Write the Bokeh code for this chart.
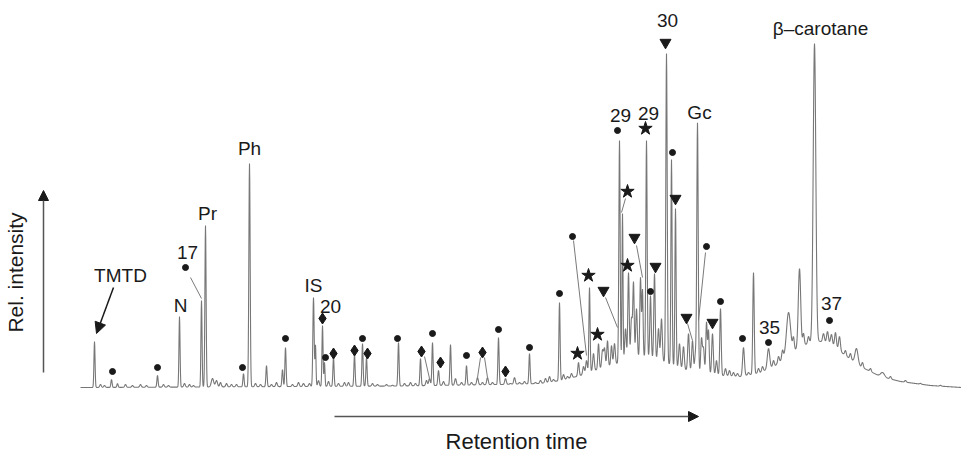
import numpy as np
from bokeh.plotting import figure
from bokeh.models import Range1d, Arrow, NormalHead
from bokeh.core.properties import value
from bokeh.embed import file_html
from bokeh.resources import INLINE

# ---------------- data (retention time in arbitrary units, relative intensity) ----------------
baseline_rt = [80, 200, 300, 400, 500, 540, 560, 580, 600, 620, 645, 660, 680, 700, 720, 740,
               760, 775, 790, 805, 815, 830, 845, 860, 880, 900, 930, 961]
baseline_level = [1, 1.5, 2, 2.5, 4, 5, 8, 13, 20, 26, 32, 28, 20, 15, 13, 12,
                  16, 23, 36, 44, 48, 45, 33, 22, 12, 7, 3, 1]

# major peaks: retention, apex intensity, width
peak_rt = [94, 111, 117, 157, 179, 201, 205, 212, 216, 243, 249, 266, 282, 285, 313, 315,
           322, 324, 333, 344, 354, 362, 366, 398, 420, 429, 432, 438, 450, 455, 466, 477,
           487, 498, 505, 514, 529, 559, 578, 589, 598, 607, 611, 619, 622, 628, 633, 640,
           642, 646, 650, 654, 666, 671, 675, 688, 692, 697, 701, 706, 708, 712, 720, 743,
           753, 768, 788, 799, 814, 823, 827, 831, 835, 839, 856, 882]
peak_apex = [47, 9, 5, 13, 72, 88, 163, 10, 8, 15, 225, 23, 19, 41, 91, 43,
             63, 26, 31, 6, 34, 45, 31, 46, 30, 10, 46, 18, 44, 10, 23, 11,
             11, 51, 10, 11, 35, 86, 26, 101, 45, 48, 43, 248, 175, 116, 105, 111,
             98, 248, 93, 115, 335, 229, 180, 55, 48, 265, 50, 66, 58, 55, 80, 41,
             116, 40, 76, 120, 345, 55, 57, 54, 56, 52, 40, 16]
peak_width = [0.55, 0.6, 0.6, 0.6, 0.55, 0.55, 0.6, 1.2, 1.0, 0.6, 0.65, 0.6, 0.6, 0.6, 0.65, 0.5,
              0.55, 0.5, 0.6, 0.8, 0.6, 0.6, 0.6, 0.6, 0.6, 0.8, 0.6, 0.7, 0.6, 0.8, 0.6, 0.8,
              0.8, 0.6, 0.8, 0.8, 0.6, 0.6, 0.7, 0.6, 0.7, 0.7, 0.7, 0.65, 0.5, 0.7, 0.7, 0.7,
              0.6, 0.65, 0.7, 0.7, 0.7, 0.6, 0.6, 0.8, 0.8, 0.7, 0.8, 0.7, 0.7, 0.8, 0.7, 0.9,
              0.7, 1.2, 2.0, 1.2, 1.3, 0.9, 0.9, 0.9, 0.9, 0.9, 1.5, 2.0]

# minor peaks (noise-level signals)
minor_rt = [100, 104, 125, 132, 140, 146, 163, 168, 184, 189, 193, 220, 226, 231, 236, 255,
            260, 271, 276, 292, 298, 303, 309, 318, 328, 338, 348, 372, 377, 386, 392, 404,
            410, 415, 426, 443, 461, 471, 482, 492, 510, 519, 524, 535, 540, 545, 549, 553,
            563, 567, 571, 583, 586, 593, 602, 604, 614, 625, 631, 636, 658, 661, 679, 683,
            695, 703, 716, 725, 729, 733, 737, 748, 758, 762, 773, 778, 782, 793, 803, 808,
            845, 850, 862, 870, 890, 905, 920, 940]
minor_apex = [4, 3, 4, 3, 4, 3, 4, 3, 5, 4, 3, 6, 5, 4, 4, 5,
              4, 4, 6, 4, 6, 5, 5, 8, 7, 5, 6, 5, 4, 4, 3, 5,
              6, 5, 8, 7, 6, 6, 6, 6, 5, 6, 7, 6, 8, 10, 12, 9,
              14, 12, 15, 22, 28, 35, 38, 40, 45, 60, 70, 80, 60, 70, 45, 42,
              35, 40, 28, 20, 18, 16, 15, 16, 20, 22, 28, 32, 38, 50, 55, 52,
              38, 35, 26, 20, 12, 8, 5, 3]

# compound markers (position of each symbol)
dot_x = [112, 157, 185, 242, 285, 325, 362, 397, 432, 466, 498, 529, 559, 572, 617, 650, 672, 706, 720, 742, 768, 829]
dot_y = [17, 21, 121, 21, 50, 31, 50, 50, 55, 33, 59, 41, 95, 152, 258, 97, 236, 142, 87, 50, 46, 68]
diamond_x = [322, 333, 354, 367, 421, 440, 482, 505]
diamond_y = [70, 35, 38, 35, 37, 26, 36, 17]
star_x = [577, 588, 597, 627, 627, 645]
star_y = [35, 113, 54, 197, 123, 260]
tri_x = [603, 634, 655, 665, 675, 686, 712]
tri_y = [98, 151, 122, 346, 190, 71, 66]

# leader lines from symbols to peaks
lead_x0 = [190, 573, 605, 625, 636, 705, 687, 424, 480, 484]
lead_y0 = [111, 148, 91, 190, 143, 136, 65, 32, 31, 31]
lead_x1 = [201, 586, 617, 621, 642, 698, 692, 429, 477, 487]
lead_y1 = [90, 33, 61, 176, 111, 68, 48, 10, 11, 11]

# peak labels
label_text = ["TMTD", "N", "17", "Pr", "Ph", "IS", "20", "29", "29", "30", "Gc", "β–carotane", "35", "37"]
label_x = [120, 180, 187, 207, 249, 313, 330, 620, 648, 667, 699, 820, 769, 831]
label_y = [113, 83, 136, 175, 240, 103, 82, 273, 275, 368, 276, 360, 61, 85]

# ---------------- build trace ----------------
t = np.arange(80, 961, 0.25)
base = np.interp(t, baseline_rt, baseline_level)
sig = base.copy()
for rt, ap, w in zip(peak_rt, peak_apex, peak_width):
    h = max(ap - np.interp(rt, baseline_rt, baseline_level), 0)
    sig += h * np.exp(-0.5 * ((t - rt) / w) ** 2)
for rt, ap in zip(minor_rt, minor_apex):
    h = max(ap - np.interp(rt, baseline_rt, baseline_level), 0.8)
    sig += h * np.exp(-0.5 * ((t - rt) / 0.8) ** 2)

# ---------------- figure ----------------
p = figure(width=961, height=454, x_range=Range1d(0, 961), y_range=Range1d(-66, 388),
           x_axis_type=None, y_axis_type=None, toolbar_location=None,
           output_backend="svg", min_border=0)
p.grid.visible = False
p.outline_line_color = None
p.background_fill_color = "white"
p.border_fill_color = "white"

FONT = value("Liberation Sans")
INK = "#1a1a1a"

p.segment(lead_x0, lead_y0, lead_x1, lead_y1, line_color="#7a7a7a", line_width=1)
p.line(t, sig, line_color="#777777", line_width=1.1)

p.scatter(dot_x, dot_y, marker="circle", size=6, color=INK)
p.scatter(diamond_x, diamond_y, marker="diamond", size=11, color=INK)
p.scatter(star_x, star_y, marker="star", size=14, color=INK)
p.scatter(tri_x, tri_y, marker="inverted_triangle", size=11, color=INK)

p.text(label_x, label_y, text=label_text, text_font=FONT, text_font_size="19px",
       text_align="center", text_baseline="middle", text_color=INK)

# TMTD arrow
p.add_layout(Arrow(x_start=113, y_start=101, x_end=96, y_end=55, line_color=INK, line_width=1.5,
                   end=NormalHead(size=11, fill_color=INK, line_color=INK)))
# axis arrows
p.add_layout(Arrow(x_start=43, y_start=16, x_end=43, y_end=198, line_color="#555555", line_width=1.5,
                   end=NormalHead(size=10, fill_color=INK, line_color=INK)))
p.add_layout(Arrow(x_start=334, y_start=-28, x_end=698, y_end=-28, line_color="#555555", line_width=1.5,
                   end=NormalHead(size=10, fill_color=INK, line_color=INK)))

p.text([15], [116], text=["Rel. intensity"], angle=np.pi / 2, text_font=FONT, text_font_size="21px",
       text_align="center", text_baseline="middle", text_color=INK)
p.text([516], [-53], text=["Retention time"], text_font=FONT, text_font_size="22px",
       text_align="center", text_baseline="middle", text_color=INK)

open("out.html", "w").write(file_html(p, INLINE))
